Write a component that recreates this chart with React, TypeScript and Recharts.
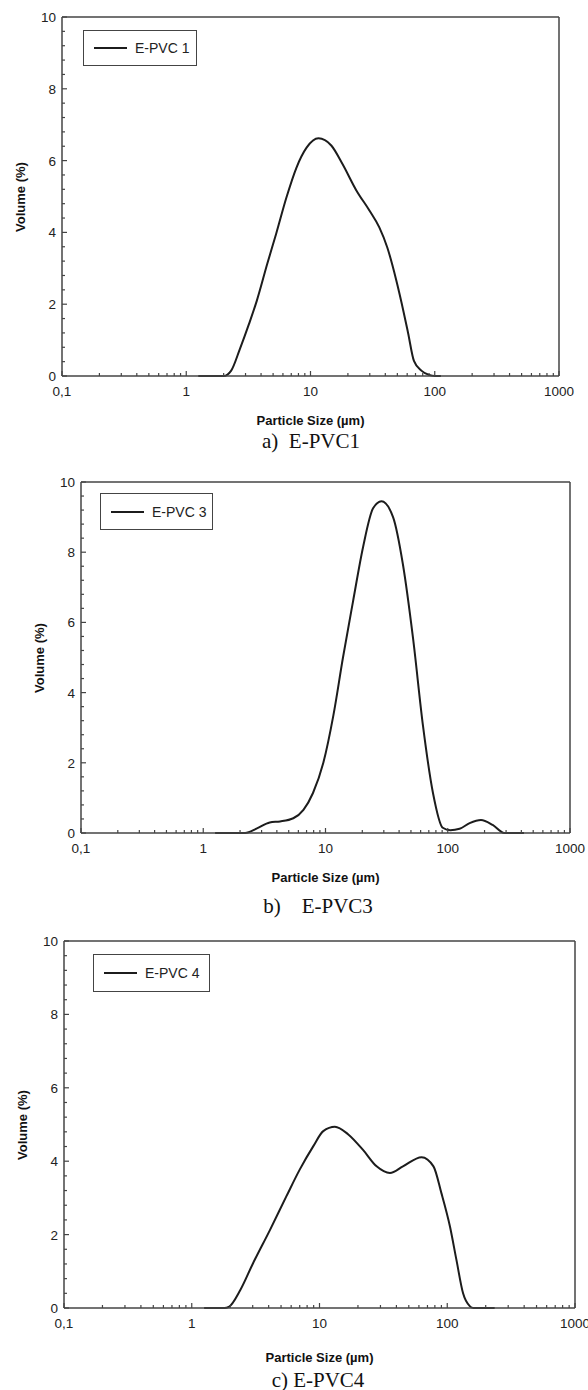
import React from 'react';
import { LineChart, Line, XAxis, YAxis, ReferenceLine } from 'recharts';

// particle size (µm) and volume (%)
const SIZE_PVC1 = [1.25, 1.75, 2.0, 2.3, 2.7, 3.2, 3.7, 4.5, 5.3, 6.4, 7.7, 9.3, 11.6, 14.7, 18, 23.4, 29.8, 35.8, 41.5, 49, 54, 61, 68, 78, 90, 100, 112];
const VOL_PVC1 = [0, 0, 0, 0.15, 0.75, 1.45, 2.1, 3.14, 3.97, 4.97, 5.8, 6.36, 6.62, 6.42, 5.92, 5.17, 4.61, 4.14, 3.58, 2.67, 2.05, 1.2, 0.42, 0.15, 0.03, 0, 0];

const SIZE_PVC3 = [1.25, 1.9, 2.2, 2.75, 3.5, 4.25, 5.45, 6.6, 7.9, 9.6, 11.6, 13.9, 16.8, 20.3, 24.5, 28.7, 35.7, 43, 52, 62.7, 75.7, 91, 105, 125, 151, 187, 233, 290, 350, 420];
const VOL_PVC3 = [0, 0, 0, 0.13, 0.3, 0.33, 0.42, 0.66, 1.14, 2.0, 3.35, 5.0, 6.6, 8.15, 9.25, 9.45, 9.0, 7.65, 5.55, 3.06, 1.14, 0.15, 0.08, 0.12, 0.28, 0.37, 0.23, 0, 0, 0];

const SIZE_PVC4 = [1.25, 1.8, 1.95, 2.4, 3.0, 4.1, 5.5, 7.0, 8.95, 10.7, 13.2, 16.8, 22, 28, 35.6, 45, 63, 78, 90, 105, 118, 133, 150, 160, 185, 235];
const VOL_PVC4 = [0, 0, 0.03, 0.49, 1.2, 2.13, 3.04, 3.77, 4.41, 4.82, 4.94, 4.73, 4.3, 3.86, 3.68, 3.86, 4.11, 3.86, 3.13, 2.22, 1.31, 0.4, 0.05, 0, 0, 0];

const X_MAJOR = [0.1, 1, 10, 100, 1000];
const X_LABELS = ['0,1', '1', '10', '100', '1000'];
const X_MINOR = [0.2, 0.3, 0.4, 0.5, 0.6, 0.7, 0.8, 0.9, 2, 3, 4, 5, 6, 7, 8, 9, 20, 30, 40, 50, 60, 70, 80, 90, 200, 300, 400, 500, 600, 700, 800, 900];
const Y_MAJOR = [0, 2, 4, 6, 8, 10];
const Y_MINOR = [0.4, 0.8, 1.2, 1.6, 2.4, 2.8, 3.2, 3.6, 4.4, 4.8, 5.2, 5.6, 6.4, 6.8, 7.2, 7.6, 8.4, 8.8, 9.2, 9.6];

const X_TICKS = [...X_MAJOR, ...X_MINOR].sort((a, b) => a - b);
const Y_TICKS = [...Y_MAJOR, ...Y_MINOR].sort((a, b) => a - b);

const AXIS = '#444';
const INK = '#1c1c1c';
const SANS = '"Liberation Sans", Arial, sans-serif';
const SERIF = '"Liberation Serif", "Times New Roman", serif';

const toRows = (sizes: number[], vols: number[]) => sizes.map((s, i) => ({ size: s, vol: vols[i] }));

const XTick = (props: any) => {
  const { x, y, payload } = props;
  const idx = X_MAJOR.indexOf(payload.value);
  const major = idx >= 0;
  return (
    <g>
      <line x1={x} x2={x} y1={y} y2={y - (major ? 5 : 3)} stroke={AXIS} strokeWidth={1.2} />
      {major && (
        <text x={x} y={y + 20} textAnchor="middle" fontFamily={SANS} fontSize={13.5} fill="#222">
          {X_LABELS[idx]}
        </text>
      )}
    </g>
  );
};

const YTick = (props: any) => {
  const { x, y, payload } = props;
  const major = Y_MAJOR.includes(payload.value);
  return (
    <g>
      <line x1={x} x2={x + (major ? 5 : 3)} y1={y} y2={y} stroke={AXIS} strokeWidth={1.2} />
      {major && (
        <text x={x - 6} y={y + 5} textAnchor="end" fontFamily={SANS} fontSize={13.5} fill="#222">
          {payload.value}
        </text>
      )}
    </g>
  );
};

interface PanelProps {
  rows: { size: number; vol: number }[];
  name: string;
  left: number;
  right: number;
  top: number;
  bottom: number;
  legend: { x: number; y: number; w: number; h: number };
  yTitleX: number;
  xTitleY: number;
  caption: string;
  captionX: number;
  captionY: number;
}

const Panel = ({ p }: { p: PanelProps }) => {
  const padTop = 10;
  const xAxisH = 40;
  const height = p.bottom - p.top + padTop + xAxisH;
  const midX = (p.left + p.right) / 2;
  const midY = (p.top + p.bottom) / 2;
  return (
    <>
      <div style={{ position: 'absolute', left: 0, top: p.top - padTop }}>
        <LineChart width={588} height={height} data={p.rows} margin={{ top: padTop, right: 588 - p.right, left: 0, bottom: 0 }}>
          <XAxis
            dataKey="size"
            type="number"
            scale="log"
            domain={[0.1, 1000]}
            allowDataOverflow
            ticks={X_TICKS}
            interval={0}
            tickSize={0}
            tickMargin={0}
            tickLine={false}
            tick={(t: any) => <XTick {...t} />}
            height={xAxisH}
            axisLine={{ stroke: AXIS, strokeWidth: 1.5 }}
          />
          <YAxis
            type="number"
            domain={[0, 10]}
            ticks={Y_TICKS}
            interval={0}
            width={p.left}
            tickSize={0}
            tickMargin={0}
            tickLine={false}
            tick={(t: any) => <YTick {...t} />}
            axisLine={{ stroke: AXIS, strokeWidth: 1.5 }}
          />
          <ReferenceLine y={10} stroke={AXIS} strokeWidth={1.5} ifOverflow="visible" />
          <ReferenceLine x={1000} stroke={AXIS} strokeWidth={1.5} ifOverflow="visible" />
          <Line dataKey="vol" type="monotone" stroke={INK} strokeWidth={2} dot={false} isAnimationActive={false} />
        </LineChart>
      </div>
      {/* legend box */}
      <div
        style={{
          position: 'absolute',
          left: p.legend.x,
          top: p.legend.y,
          width: p.legend.w,
          height: p.legend.h,
          boxSizing: 'border-box',
          border: `1px solid ${AXIS}`,
          background: '#fff',
          display: 'flex',
          alignItems: 'center',
          fontFamily: SANS,
          fontSize: 14,
          color: '#222',
        }}
      >
        <div style={{ marginLeft: 10, width: 33, height: 2, background: INK }} />
        <span style={{ marginLeft: 8 }}>{p.name}</span>
      </div>
      <div
        style={{
          position: 'absolute',
          left: p.yTitleX,
          top: midY,
          transform: 'translate(-50%, -50%) rotate(-90deg)',
          whiteSpace: 'nowrap',
          fontFamily: SANS,
          fontWeight: 'bold',
          fontSize: 13,
          color: '#111',
        }}
      >
        Volume (%)
      </div>
      <div
        style={{
          position: 'absolute',
          left: midX,
          top: p.xTitleY,
          transform: 'translate(-50%, -50%)',
          whiteSpace: 'nowrap',
          fontFamily: SANS,
          fontWeight: 'bold',
          fontSize: 13,
          color: '#111',
        }}
      >
        Particle Size (µm)
      </div>
      <div
        style={{
          position: 'absolute',
          left: p.captionX,
          top: p.captionY,
          transform: 'translate(-50%, -50%)',
          whiteSpace: 'pre',
          fontFamily: SERIF,
          fontSize: 21,
          color: '#111',
        }}
      >
        {p.caption}
      </div>
    </>
  );
};

const PANELS: PanelProps[] = [
  {
    rows: toRows(SIZE_PVC1, VOL_PVC1),
    name: 'E-PVC 1',
    left: 62, right: 559, top: 17, bottom: 376,
    legend: { x: 83, y: 30, w: 114, h: 36 },
    yTitleX: 20, xTitleY: 420,
    caption: 'a)  E-PVC1', captionX: 311, captionY: 441,
  },
  {
    rows: toRows(SIZE_PVC3, VOL_PVC3),
    name: 'E-PVC 3',
    left: 81, right: 570, top: 482, bottom: 833,
    legend: { x: 100, y: 493, w: 113, h: 37 },
    yTitleX: 39, xTitleY: 877,
    caption: 'b)    E-PVC3', captionX: 318, captionY: 906,
  },
  {
    rows: toRows(SIZE_PVC4, VOL_PVC4),
    name: 'E-PVC 4',
    left: 64, right: 575, top: 941, bottom: 1308,
    legend: { x: 93, y: 954, w: 117, h: 38 },
    yTitleX: 22, xTitleY: 1357,
    caption: 'c) E-PVC4', captionX: 318, captionY: 1380,
  },
];

export default function App() {
  return (
    <div style={{ position: 'absolute', left: 0, top: 0, width: 588, height: 1390, background: '#fff', overflow: 'hidden' }}>
      {PANELS.map((p) => (
        <Panel key={p.name} p={p} />
      ))}
    </div>
  );
}
